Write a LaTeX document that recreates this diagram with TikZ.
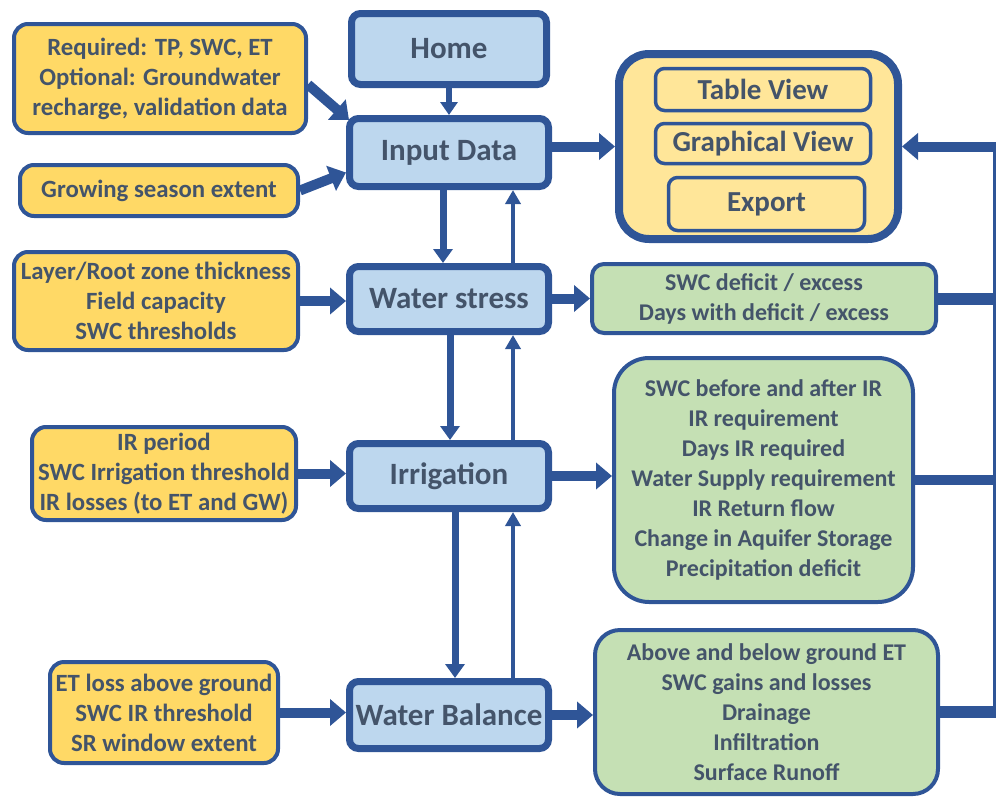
\documentclass[tikz,border=0pt]{standalone}
\usepackage{fontspec}
\setmainfont{Carlito}
\usetikzlibrary{arrows.meta,calc}
\definecolor{bdr}{HTML}{2F5597}
\definecolor{lblue}{HTML}{BDD7EE}
\definecolor{ylw}{HTML}{FFD966}
\definecolor{lylw}{HTML}{FFE699}
\definecolor{grn}{HTML}{C5E0B4}
\definecolor{txt}{HTML}{44546A}
\begin{document}
\begin{tikzpicture}[x=1pt,y=-1pt,
 base/.style={draw=bdr, align=center, inner sep=0pt, text=txt, font=\fontsize{24}{30}\selectfont\bfseries},
 mainbox/.style={base, fill=lblue, line width=7pt, rounded corners=9pt, font=\fontsize{31}{36}\selectfont\bfseries},
 inbox/.style={base, fill=ylw, line width=4pt, rounded corners=14pt, font=\fontsize{24.8}{30}\selectfont\bfseries},
 outbox/.style={base, fill=grn, line width=4pt, rounded corners=12pt},
 viewbox/.style={base, fill=lylw, line width=3.5pt, rounded corners=9pt, font=\fontsize{29}{34}\selectfont\bfseries},
 sz/.style 2 args={minimum width=#1pt, minimum height=#2pt},
 bigarr/.style={draw=bdr, line width=10pt, -{Triangle[length=16pt,width=26pt]}},
 downarr/.style={draw=bdr, line width=7pt, -{Triangle[length=14pt,width=19pt]}},
 homearr/.style={draw=bdr, line width=6pt, -{Triangle[length=13pt,width=17pt]}},
 uparr/.style={draw=bdr, line width=4pt, -{Triangle[length=14pt,width=15pt]}},
 busline/.style={draw=bdr, line width=12pt}
]
\useasboundingbox (0,0) rectangle (996,798);
% main column
\node[mainbox, sz={195}{71}] (home) at (449,49) {Home};
\node[mainbox, sz={199}{68}] (input) at (449,152.5) {Input Data};
\node[mainbox, sz={199}{65}] (stress) at (449,299) {Water stress};
\node[mainbox, sz={199}{65}] (irr) at (449,476) {Irrigation};
\node[mainbox, sz={199}{67}] (wb) at (449,715) {Water Balance};
% inputs
\node[inbox, sz={292}{109}] (req) at (160,78.5) {Required: TP, SWC, ET\\Optional: Groundwater\\recharge, validation data};
\node[inbox, sz={278}{51}] (grow) at (159,190.5) {Growing season extent};
\node[inbox, sz={284}{98}] (layer) at (156,301) {Layer/Root zone thickness\\Field capacity\\SWC thresholds};
\node[inbox, sz={264}{93}] (irin) at (164,473.5) {IR period\\SWC Irrigation threshold\\IR losses (to ET and GW)};
\node[inbox, sz={228}{101}] (etin) at (164,712.5) {ET loss above ground\\SWC IR threshold\\SR window extent};
% results
\node[base, fill=lylw, line width=8pt, rounded corners=30pt, sz={279}{185}] (res) at (758.5,146.5) {};
\node[viewbox, sz={215}{42}] (table) at (763,89.5) {Table View};
\node[viewbox, sz={215}{40}] (graph) at (763,143.5) {Graphical View};
\node[viewbox, sz={196}{53}] (export) at (766.5,204) {Export};
\node[outbox, sz={344}{69}] (def) at (764,298.5) {SWC deficit / excess\\Days with deficit / excess};
\node[outbox, rounded corners=35pt, sz={299}{244}] (irout) at (763.5,480) {SWC before and after IR\\IR requirement\\Days IR required\\Water Supply requirement\\IR Return flow\\Change in Aquifer Storage\\Precipitation deficit};
\node[outbox, rounded corners=25pt, sz={343}{164}] (wbout) at (766.5,712) {Above and below ground ET\\SWC gains and losses\\Drainage\\Infiltration\\Surface Runoff};
% vertical connectors
\draw[homearr] (home) -- (input);
\draw[downarr] ([xshift=-6pt]input.south) -- ([xshift=-6pt]stress.north);
\draw[uparr] ([xshift=64pt]stress.north) -- ([xshift=64pt]input.south);
\draw[downarr] ([xshift=1pt]stress.south) -- ([xshift=1pt]irr.north);
\draw[uparr] ([xshift=64pt]irr.north) -- ([xshift=64pt]stress.south);
\draw[downarr] ([xshift=6pt]irr.south) -- ([xshift=6pt]wb.north);
\draw[uparr] ([xshift=64pt]wb.north) -- ([xshift=64pt]irr.south);
% inputs to main
\draw[bigarr] ([yshift=-6pt]req.east) -- ([xshift=3pt,yshift=-5pt]input.north west);
\draw[bigarr] (grow.east) -- ([yshift=-20pt]input.west);
\draw[bigarr] (layer.east) -- (layer.east -| stress.west);
\draw[bigarr] (irin.east) -- (irin.east -| irr.west);
\draw[bigarr] (etin.east) -- (etin.east -| wb.west);
% main to outputs
\draw[bigarr] (input.east |- res.west) -- (res.west);
\draw[bigarr] (stress.east |- def.west) -- (def.west);
\draw[bigarr] (irr.east) -- (irr.east -| irout.west);
\draw[bigarr] (wb.east) -- (wb.east -| wbout.west);
% feedback bus
\coordinate (bt) at (994,146.5);
\coordinate (bb) at (994,712);
\draw[draw=bdr, line width=3pt] (bt) -- (bb);
\draw[busline] (def.east) -- ([xshift=2pt]def.east -| bt);
\draw[busline, line width=10pt] (irout.east) -- ([xshift=2pt]irout.east -| bt);
\draw[busline] (wbout.east) -- ([xshift=2pt]wbout.east -| bt);
\draw[bigarr] ([xshift=2pt]bt) -- (res.east);
\end{tikzpicture}
\end{document}
